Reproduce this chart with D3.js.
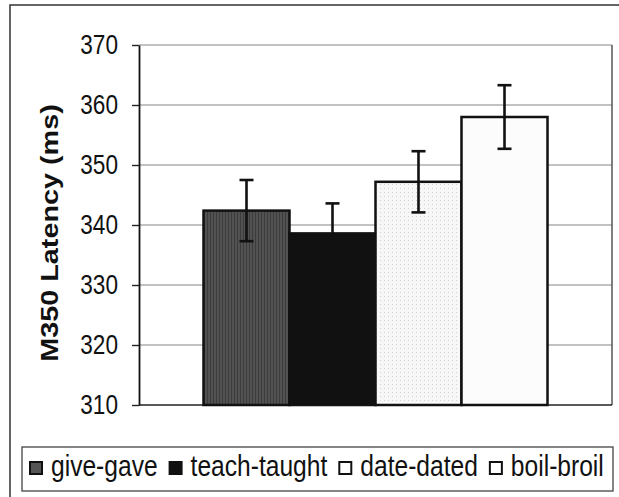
<!DOCTYPE html>
<html>
<head>
<meta charset="utf-8">
<script src="https://cdn.jsdelivr.net/npm/d3@7"></script>
<style>
  body { margin: 0; background: #fff; }
  svg { display: block; font-family: "Liberation Sans", Arial, sans-serif; }
</style>
</head>
<body>
<div id="chart"></div>
<script>
// Chart data
const conditions = ['give-gave', 'teach-taught', 'date-dated', 'boil-broil'];
const latency = [342.4, 338.6, 347.2, 358.0];
const errors = [5.1, 5.0, 5.1, 5.3];
const yTicks = [310, 320, 330, 340, 350, 360, 370];

const width = 619, height = 497;
const plot = { left: 139, right: 612, top: 45, bottom: 405 };
// the scanned figure is stretched vertically, so text is too
const stretch = 'scale(1,1.2)';

const svg = d3.select('#chart').append('svg')
    .attr('width', width)
    .attr('height', height);

// Fill patterns (scanned-looking textures)
const defs = svg.append('defs');
const stripes = defs.append('pattern')
    .attr('id', 'pat-give')
    .attr('patternUnits', 'userSpaceOnUse')
    .attr('width', 3).attr('height', 4);
stripes.append('rect').attr('width', 3).attr('height', 4).attr('fill', '#525252');
stripes.append('rect').attr('width', 1).attr('height', 4).attr('fill', '#3c3c3c');

const dots = defs.append('pattern')
    .attr('id', 'pat-date')
    .attr('patternUnits', 'userSpaceOnUse')
    .attr('width', 4).attr('height', 4);
dots.append('rect').attr('width', 4).attr('height', 4).attr('fill', '#f7f7f7');
dots.append('rect').attr('width', 1).attr('height', 1).attr('fill', '#d2d2d2');

const fills = ['url(#pat-give)', '#111111', 'url(#pat-date)', '#fcfcfc'];
const swatchFills = ['#555555', '#111111', '#ffffff', '#ffffff'];

// Outer frame
svg.append('rect')
    .attr('x', 10).attr('y', 5)
    .attr('width', 640).attr('height', 520)
    .attr('fill', 'none')
    .attr('stroke', '#333')
    .attr('stroke-width', 1.5);

// Scales
const y = d3.scaleLinear()
    .domain([310, 370])
    .range([plot.bottom, plot.top]);

const x = d3.scaleBand()
    .domain(conditions)
    .range([plot.left, plot.right])
    .paddingInner(0)
    .paddingOuter(0.75);

// Gridlines
svg.append('g')
    .selectAll('line')
    .data(yTicks.slice(1))
    .join('line')
    .attr('x1', plot.left).attr('x2', plot.right)
    .attr('y1', d => y(d)).attr('y2', d => y(d))
    .attr('stroke', '#858585')
    .attr('stroke-width', 1.2);

// Right border of plot area
svg.append('line')
    .attr('x1', plot.right).attr('x2', plot.right)
    .attr('y1', plot.top).attr('y2', plot.bottom)
    .attr('stroke', '#555')
    .attr('stroke-width', 1.5);

// Bottom axis line
svg.append('line')
    .attr('x1', plot.left).attr('x2', plot.right)
    .attr('y1', plot.bottom).attr('y2', plot.bottom)
    .attr('stroke', '#222')
    .attr('stroke-width', 1.5);

// Bars
svg.append('g')
    .selectAll('rect')
    .data(conditions)
    .join('rect')
    .attr('x', d => x(d))
    .attr('y', (d, i) => y(latency[i]))
    .attr('width', x.bandwidth())
    .attr('height', (d, i) => y(310) - y(latency[i]))
    .attr('fill', (d, i) => fills[i])
    .attr('stroke', '#111')
    .attr('stroke-width', 2.5);

// Error bars
const capHalf = 7;
const err = svg.append('g')
    .attr('stroke', '#111')
    .attr('stroke-width', 2.6)
    .selectAll('g')
    .data(conditions)
    .join('g');

err.append('line')
    .attr('x1', d => x(d) + x.bandwidth() / 2)
    .attr('x2', d => x(d) + x.bandwidth() / 2)
    .attr('y1', (d, i) => y(latency[i] - errors[i]))
    .attr('y2', (d, i) => y(latency[i] + errors[i]));

err.append('line')
    .attr('x1', d => x(d) + x.bandwidth() / 2 - capHalf)
    .attr('x2', d => x(d) + x.bandwidth() / 2 + capHalf)
    .attr('y1', (d, i) => y(latency[i] + errors[i]))
    .attr('y2', (d, i) => y(latency[i] + errors[i]));

err.append('line')
    .attr('x1', d => x(d) + x.bandwidth() / 2 - capHalf)
    .attr('x2', d => x(d) + x.bandwidth() / 2 + capHalf)
    .attr('y1', (d, i) => y(latency[i] - errors[i]))
    .attr('y2', (d, i) => y(latency[i] - errors[i]));

// Y axis
const yAxis = svg.append('g')
    .attr('transform', `translate(${plot.left},0)`)
    .call(d3.axisLeft(y).tickValues(yTicks).tickSize(7).tickSizeOuter(0));

yAxis.select('.domain')
    .attr('stroke', '#111')
    .attr('stroke-width', 1.8);
yAxis.selectAll('.tick line')
    .attr('stroke', '#222')
    .attr('stroke-width', 1.4);
yAxis.selectAll('.tick text')
    .attr('x', -21)
    .attr('dy', '0.33em')
    .attr('transform', stretch)
    .attr('fill', '#111')
    .style('font-size', '22.6px')
    .style('font-family', '"Liberation Sans", Arial, sans-serif');

// Y axis title
svg.append('text')
    .attr('transform', `translate(58,233) ${stretch} rotate(-90)`)
    .attr('text-anchor', 'middle')
    .style('font-size', '24px')
    .style('font-weight', 'bold')
    .attr('fill', '#111')
    .text('M350 Latency (ms)');

// Legend
svg.append('rect')
    .attr('x', 22).attr('y', 447)
    .attr('width', 591).attr('height', 44)
    .attr('fill', '#fff')
    .attr('stroke', '#444')
    .attr('stroke-width', 1.3);

let lx = 30;
conditions.forEach((name, i) => {
    svg.append('rect')
        .attr('x', lx).attr('y', 462)
        .attr('width', 12).attr('height', 12)
        .attr('fill', swatchFills[i])
        .attr('stroke', '#111')
        .attr('stroke-width', 2);
    const t = svg.append('text')
        .attr('transform', `translate(${lx + 21},476) ${stretch}`)
        .style('font-size', '24.6px')
        .attr('fill', '#111')
        .text(name);
    lx += 21 + t.node().getComputedTextLength() + 12;
});
</script>
</body>
</html>
